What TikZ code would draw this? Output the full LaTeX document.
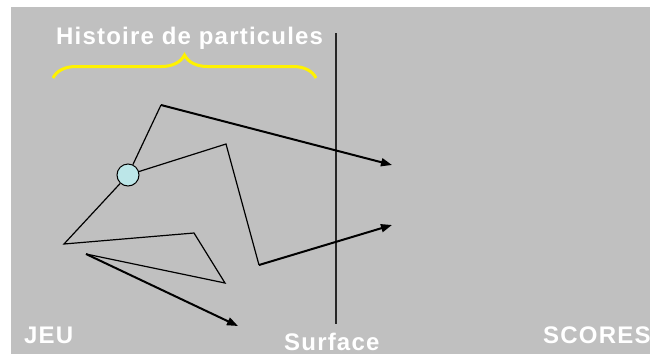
\documentclass[tikz,border=0pt]{standalone}
\usepackage{fontspec}
\usepackage{tikz}
\usetikzlibrary{arrows.meta,decorations.pathreplacing}
\newfontfamily\lblfont[LetterSpace=5]{Liberation Sans}
\definecolor{panelgray}{HTML}{C0C0C0}
\definecolor{bluefill}{HTML}{BCE6E8}
\begin{document}
\begin{tikzpicture}[x=1pt,y=-1pt,
lbl/.style={text=white,font=\lblfont\bfseries\fontsize{24}{27}\selectfont,inner sep=0pt},
walk/.style={line width=1.2pt,black},
escape/.style={line width=2pt,black,-{Triangle[length=11pt,width=8pt]}},
hit/.style={circle,draw,line width=1pt,fill=bluefill,minimum size=22pt,inner sep=0pt}]
\useasboundingbox (0,0) rectangle (650,354);
\fill[white] (0,0) rectangle (650,354);
\fill[panelgray] (11,7) rectangle (650,354);
% labels
\node[lbl,anchor=base west] (hist) at (56,44) {Histoire de particules};
\node[lbl,anchor=base west] (jeu) at (24,343) {JEU};
\node[lbl,anchor=base west] (surf) at (284,350) {Surface};
\node[lbl,anchor=base west] (scores) at (543,343) {SCORES};
% brace
\coordinate (bl) at (53,78); \coordinate (br) at (316,78);
\draw[yellow,line width=3pt,decorate,decoration={brace,amplitude=23pt}] (bl) -- (br);
% surface
\coordinate (st) at (336,33); \coordinate (sb) at (336,324);
\draw[line width=2pt,black!85] (st) -- (sb);
% walk points
\node[hit] (col) at (128,175) {};
\coordinate (a) at (64,244); \coordinate (b) at (194,233);
\coordinate (c) at (225,283); \coordinate (d) at (86,254);
\coordinate (top) at (161,105); \coordinate (peak) at (226,144);
\coordinate (low) at (259,265);
\coordinate (ta) at (392,165); \coordinate (tb) at (392,225);
\coordinate (tc) at (238,326);
\draw[walk] (d) -- (c) -- (b) -- (a) -- (col);
\draw[walk] (col) -- (top);
\draw[walk] (col) -- (peak) -- (low);
\draw[escape] (top) -- (ta);
\draw[escape] (low) -- (tb);
\draw[escape] (d) -- (tc);
\end{tikzpicture}
\end{document}
